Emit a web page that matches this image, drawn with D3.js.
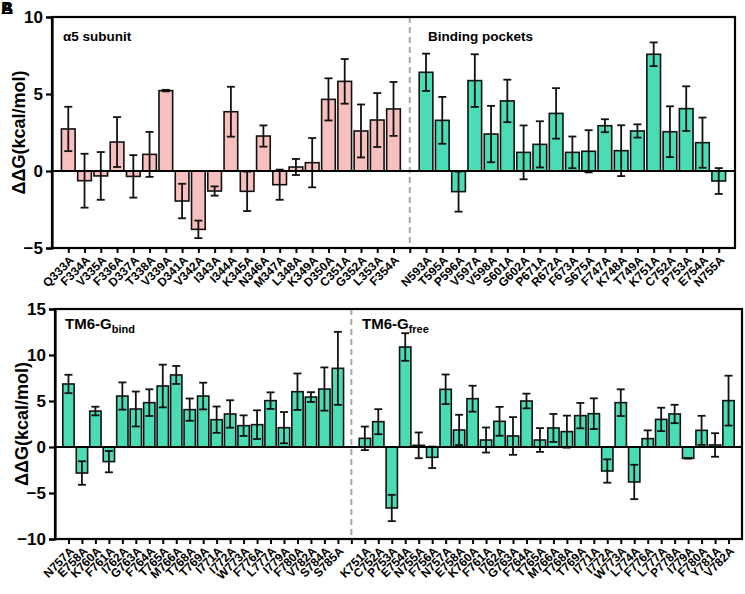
<!DOCTYPE html>
<html><head><meta charset="utf-8">
<script src="https://cdn.jsdelivr.net/npm/d3@7"></script>
<style>
body{margin:0;background:#fff;}
svg text{font-family:Arial,"Liberation Sans",sans-serif;font-weight:bold;fill:#000;}
</style></head>
<body><svg id="c" width="745" height="594"></svg>
<script>
// ---- Panel A (top) data ----
const topLeftCats = ["Q333A","F334A","V335A","F336A","D337A","T338A","V339A","D341A","V342A","I343A","I344A","K345A","N346A","M347A","L348A","K349A","D350A","C351A","G352A","L353A","F354A"];
const topLeftVals = [2.73,-0.63,-0.32,1.88,-0.35,1.08,5.22,-1.95,-3.79,-1.3,3.85,-1.32,2.27,-0.89,0.26,0.54,4.65,5.82,2.6,3.31,4.03];
const topLeftErrs = [1.44,1.75,1.55,1.62,1.38,1.46,0.05,1.12,0.57,0.3,1.62,1.28,0.69,0.98,0.52,1.6,1.37,1.45,1.72,1.75,1.75];
const topRightCats = ["N593A","T595A","P596A","V597A","V598A","S601A","G602A","P671A","R672A","F673A","S675A","F747A","K748A","T749A","K751A","C752A","P753A","E754A","N755A"];
const topRightVals = [6.41,3.29,-1.34,5.87,2.4,4.55,1.21,1.73,3.74,1.21,1.28,2.94,1.32,2.6,7.58,2.55,4.05,1.84,-0.65];
const topRightErrs = [1.21,1.52,1.3,1.71,1.83,1.38,1.75,1.5,1.64,1.03,1.37,0.42,1.65,0.43,0.77,1.65,1.45,1.63,0.84];
const topTicks = [-5,0,5,10];

// ---- Panel B (bottom) data ----
const botLeftCats = ["N757A","E758A","K760A","F761A","I762A","G763A","F764A","T765A","M766A","T768A","T769A","I771A","I772A","W773A","F776A","L777A","I779A","F780A","V782A","S784A","S785A"];
const botLeftVals = [6.85,-2.83,3.91,-1.59,5.54,4.13,4.82,6.63,7.83,4.06,5.54,2.97,3.59,2.32,2.43,5.04,2.1,6.01,5.43,6.3,8.55];
const botLeftErrs = [1.0,1.28,0.47,1.16,1.48,1.9,1.45,2.32,0.98,1.21,1.45,1.43,1.49,1.12,1.56,0.9,1.7,1.98,0.53,2.35,3.97];
const botRightCats = ["K751A","C752A","P753A","E754A","N755A","F756A","N757A","E758A","K760A","F761A","I762A","G763A","F764A","T765A","M766A","T768A","T769A","I771A","I772A","W773A","L774A","F776A","L777A","P778A","I779A","F780A","Y781A","V782A"];
const botRightVals = [0.94,2.75,-6.63,10.87,0.18,-1.12,6.27,1.85,5.25,0.76,2.79,1.2,5.0,0.76,2.07,1.67,3.41,3.62,-2.61,4.82,-3.8,0.91,3.0,3.59,-1.23,1.81,0.22,5.04];
const botRightErrs = [1.28,1.36,1.43,1.5,1.4,1.17,1.61,1.65,1.41,1.36,1.57,2.05,0.8,1.29,1.52,1.74,1.38,1.67,1.27,1.45,1.87,0.9,1.27,1.0,0.03,1.58,1.28,2.71];
const botTicks = [-10,-5,0,5,10,15];

const svg = d3.select("#c");

function panel(cfg){
  const g = svg.append("g");
  const L = cfg.leftCats.map((c,i)=>({key:"L"+i, name:c, v:cfg.leftVals[i], e:cfg.leftErrs[i]}));
  const R = cfg.rightCats.map((c,i)=>({key:"R"+i, name:c, v:cfg.rightVals[i], e:cfg.rightErrs[i]}));
  const keys = L.map(d=>d.key).concat(["gap"], R.map(d=>d.key));
  const names = {}; L.concat(R).forEach(d=>names[d.key]=d.name); names.gap="";
  const x = d3.scalePoint().domain(keys).range([cfg.x0,cfg.x1]).padding(1);
  const y = d3.scaleLinear().domain(cfg.domain).range([cfg.y1,cfg.y0]);
  const bw = x.step()*0.84;

  // dashed separator
  g.append("line").attr("x1",x("gap")).attr("x2",x("gap")).attr("y1",cfg.y0).attr("y2",cfg.y1)
    .attr("stroke","#a8a8a8").attr("stroke-width",2).attr("stroke-dasharray","6,4");

  const data = L.map(d=>({...d,fill:cfg.leftFill})).concat(R.map(d=>({...d,fill:cfg.rightFill})));
  g.selectAll("rect.bar").data(data).join("rect").attr("class","bar")
    .attr("x",d=>x(d.key)-bw/2).attr("width",bw)
    .attr("y",d=>y(Math.max(0,d.v))).attr("height",d=>Math.abs(y(d.v)-y(0)))
    .attr("fill",d=>d.fill).attr("stroke","#111").attr("stroke-width",1.6);

  // error bars
  const cw = 4;
  const eb = g.selectAll("g.eb").data(data).join("g").attr("class","eb")
    .attr("stroke","#111").attr("stroke-width",1.8);
  eb.append("line").attr("x1",d=>x(d.key)).attr("x2",d=>x(d.key))
    .attr("y1",d=>y(d.v+d.e)).attr("y2",d=>y(d.v-d.e));
  eb.append("line").attr("x1",d=>x(d.key)-cw).attr("x2",d=>x(d.key)+cw)
    .attr("y1",d=>y(d.v+d.e)).attr("y2",d=>y(d.v+d.e));
  eb.append("line").attr("x1",d=>x(d.key)-cw).attr("x2",d=>x(d.key)+cw)
    .attr("y1",d=>y(d.v-d.e)).attr("y2",d=>y(d.v-d.e));

  // zero line
  g.append("line").attr("x1",cfg.x0).attr("x2",cfg.x1).attr("y1",y(0)).attr("y2",y(0))
    .attr("stroke","#000").attr("stroke-width",1.8);

  // frame
  g.append("rect").attr("x",cfg.x0).attr("y",cfg.y0).attr("width",cfg.x1-cfg.x0).attr("height",cfg.y1-cfg.y0)
    .attr("fill","none").attr("stroke","#000").attr("stroke-width",2.2);

  // y axis
  const ya = g.append("g").attr("transform",`translate(${cfg.x0},0)`)
    .call(d3.axisLeft(y).tickValues(cfg.ticks).tickSize(6).tickPadding(3).tickFormat(d3.format("d")));
  ya.select(".domain").attr("stroke-width",2.2);
  ya.selectAll(".tick line").attr("stroke-width",2.2);
  ya.selectAll("text").style("font-size","17px");

  // x axis
  const xa = g.append("g").attr("transform",`translate(0,${cfg.y1})`)
    .call(d3.axisBottom(x).tickSize(5).tickFormat(k=>names[k]));
  xa.select(".domain").remove();
  xa.selectAll(".tick line").attr("stroke-width",2);
  xa.selectAll("text").style("font-size","12px")
    .attr("text-anchor","end").attr("x",0).attr("y",0).attr("dy","0.35em")
    .attr("transform","translate(3,10) rotate(-45)");

  // y label
  g.append("text").attr("transform",`translate(${cfg.ylx},${(cfg.y0+cfg.y1)/2}) rotate(-90)`)
    .attr("text-anchor","middle").attr("dy","0.35em").style("font-size","18px").text("ΔΔG(kcal/mol)");

  // annotations
  cfg.ann(g, x);
}

panel({x0:52,x1:735,y0:17,y1:248,domain:[-5,10],ticks:topTicks,ylx:19,
  leftCats:topLeftCats,leftVals:topLeftVals,leftErrs:topLeftErrs,
  rightCats:topRightCats,rightVals:topRightVals,rightErrs:topRightErrs,
  leftFill:"#f8bfbf",rightFill:"#4cdcb5",
  ann:(g,x)=>{
    g.append("text").attr("x",63).attr("y",41).style("font-size",13.5+"px").text("α5 subunit");
    g.append("text").attr("x",428).attr("y",41).style("font-size",13.5+"px").text("Binding pockets");
  }});

panel({x0:55,x1:742,y0:309,y1:539,domain:[-10,15],ticks:botTicks,ylx:22,
  leftCats:botLeftCats,leftVals:botLeftVals,leftErrs:botLeftErrs,
  rightCats:botRightCats,rightVals:botRightVals,rightErrs:botRightErrs,
  leftFill:"#4cdcb5",rightFill:"#4cdcb5",
  ann:(g,x)=>{
    const t1 = g.append("text").attr("x",65).attr("y",329).style("font-size","15px");
    t1.append("tspan").text("TM6-G");
    t1.append("tspan").attr("dy",4).style("font-size","11px").text("bind");
    const t2 = g.append("text").attr("x",362).attr("y",329).style("font-size","15px");
    t2.append("tspan").text("TM6-G");
    t2.append("tspan").attr("dy",4).style("font-size","11px").text("free");
  }});

// panel letters (overlapping as in reference)
svg.append("text").attr("x",1).attr("y",14).style("font-size","17px").text("A");
svg.append("text").attr("x",1).attr("y",14).style("font-size","17px").text("B");
</script></body></html>
